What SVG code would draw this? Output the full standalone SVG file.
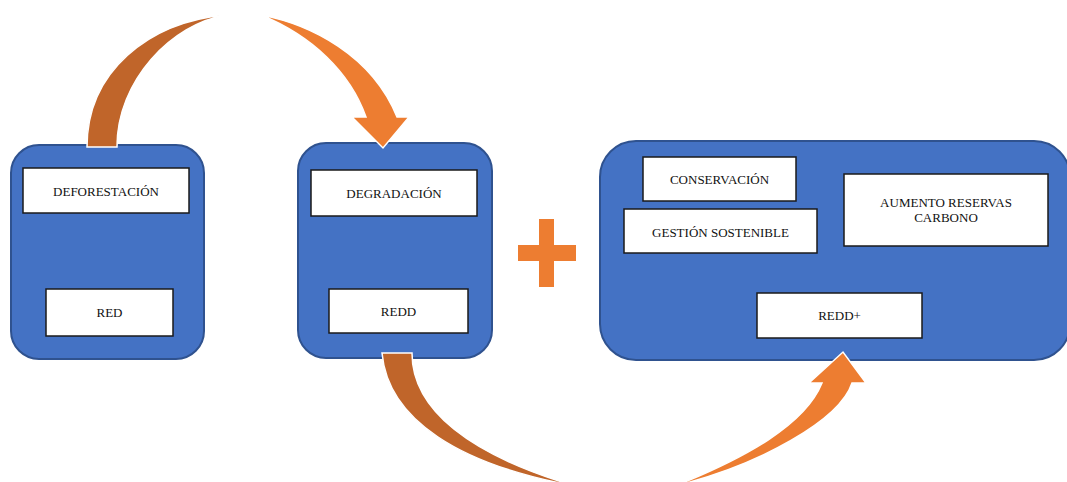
<svg xmlns="http://www.w3.org/2000/svg" width="1067" height="482" viewBox="0 0 1067 482">
<style>
.node{fill:#4472C4;stroke:#2F528F;stroke-width:2}
.box{fill:#fff;stroke:#1a1a1a;stroke-width:1.5}
.t{font-family:"Liberation Serif","Times New Roman",serif;font-size:13px;fill:#111;text-anchor:middle}
.dark{fill:#C0652A;stroke:#fff;stroke-width:1.5;stroke-linejoin:miter}
.light{fill:#ED7D31;stroke:#fff;stroke-width:1.5;stroke-linejoin:miter}
</style>
<rect width="1067" height="482" fill="#fff"/>
<g id="node-red">
<rect class="node" x="11" y="145" width="193" height="214" rx="28"/>
<rect class="box" x="23" y="168" width="166" height="45"/>
<text class="t" x="106" y="196">DEFORESTACIÓN</text>
<rect class="box" x="46" y="289" width="127" height="47"/>
<text class="t" x="109.5" y="317">RED</text>
</g>
<g id="node-redd">
<rect class="node" x="298" y="143" width="194" height="215" rx="28"/>
<rect class="box" x="311" y="170" width="166" height="46"/>
<text class="t" x="394" y="198">DEGRADACIÓN</text>
<rect class="box" x="329" y="289" width="139" height="44"/>
<text class="t" x="398.5" y="316">REDD</text>
</g>
<g id="plus">
<rect x="539" y="219" width="15" height="68" fill="#ED7D31"/>
<rect x="518" y="245" width="58" height="16" fill="#ED7D31"/>
</g>
<g id="node-reddplus">
<rect class="node" x="600" y="141" width="470" height="219" rx="36"/>
<rect class="box" x="643" y="157" width="153" height="44"/>
<text class="t" x="719.5" y="184">CONSERVACIÓN</text>
<rect class="box" x="624" y="209" width="193" height="44"/>
<text class="t" x="720.5" y="237">GESTIÓN SOSTENIBLE</text>
<rect class="box" x="844" y="174" width="204" height="72"/>
<text class="t" x="946" y="207">AUMENTO RESERVAS</text>
<text class="t" x="946" y="222">CARBONO</text>
<rect class="box" x="757" y="293" width="165" height="45"/>
<text class="t" x="839.5" y="320">REDD+</text>
</g>
<g id="connectors">
<path class="dark" d="M87,147 C87,72 148,22 226,15 C172,24 117,80 117,147 Z"/>
<path class="light" d="M261,15 C310,24 372,55 397,117 L409,117 L383,148 L352,117 L366,117 C350,72 312,36 261,15 Z"/>
<path class="dark" d="M382,353 L412,353 C412,410 470,455 575,486 C460,465 388,420 382,353 Z"/>
<path class="light" d="M675,486 C760,465 840,420 852,383 L866,383 L843,352 L809,383 L822,383 C805,425 745,458 675,486 Z"/>
</g>
</svg>
